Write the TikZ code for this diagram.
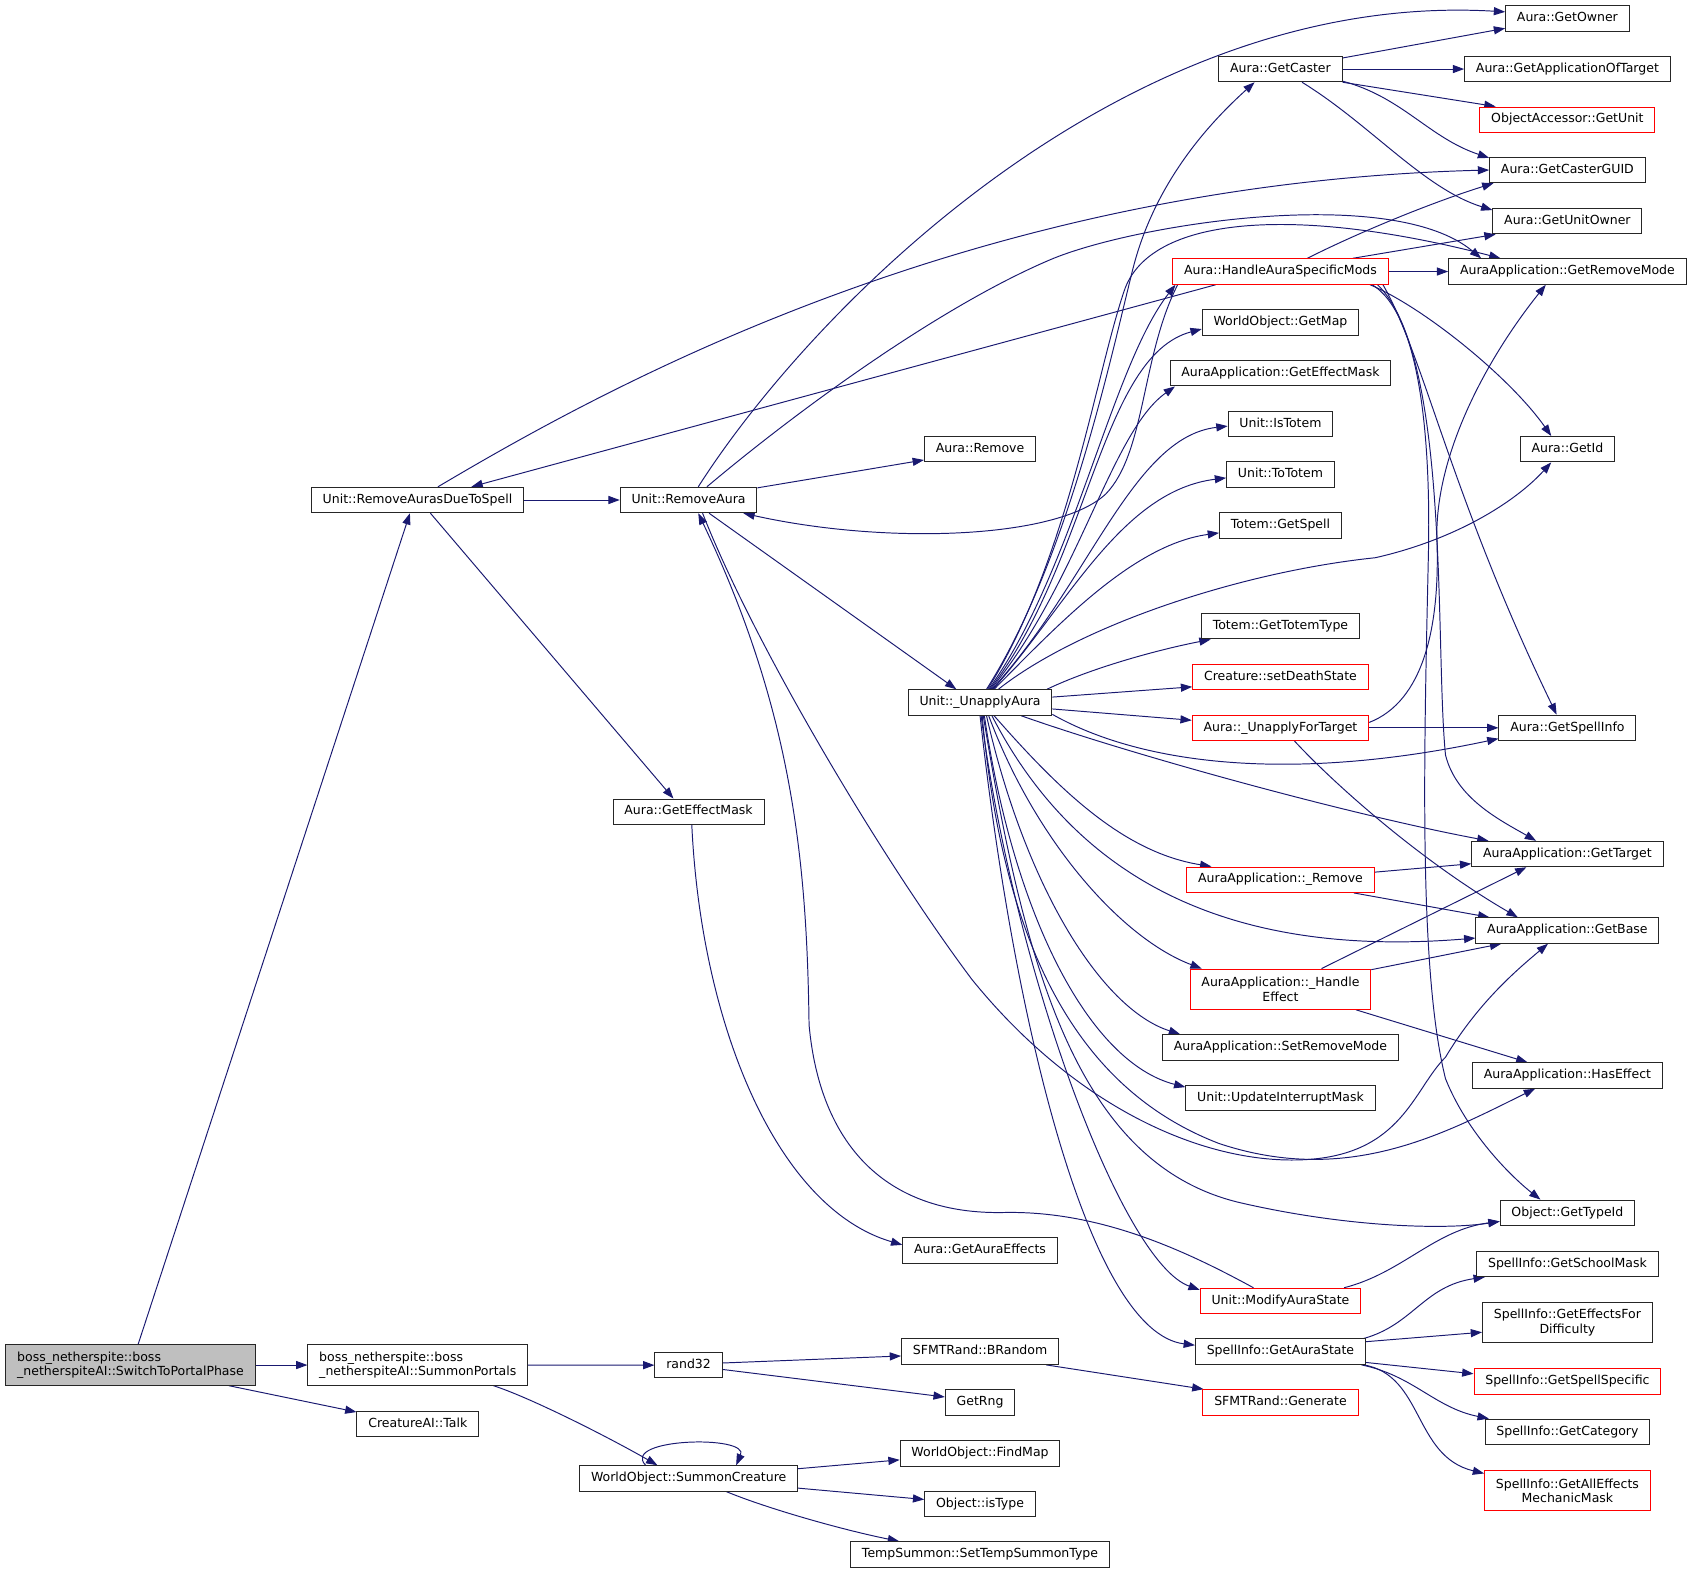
\documentclass[tikz,border=0pt]{standalone}
\usepackage{fontspec}
\setmainfont{DejaVu Sans}
\usetikzlibrary{arrows.meta,backgrounds}
\definecolor{edgecol}{HTML}{191970}
\definecolor{graybg}{HTML}{BFBFBF}
\begin{document}
\begin{tikzpicture}[x=1pt,y=-1pt,
  box/.style={draw=black!85, line width=0.9pt, fill=white, inner xsep=10.5pt, inner ysep=5.8pt,
    text height=9pt, text depth=3pt, font=\fontsize{11.6pt}{13.5pt}\selectfont},
  redbox/.style={box, draw=red},
  two/.style={align=center, text height=, text depth=, minimum height=37.3pt},
  twol/.style={two, align=left},
  e/.style={draw=edgecol, line width=0.9pt, -{Triangle[length=10.5pt,width=7.5pt]}},
]
\useasboundingbox (0,0) rectangle (1568.5,1458.2);

% column 0/1
\node[box, twol, fill=graybg] (SP) at (121,1265.4) {boss\_netherspite::boss\\\_netherspiteAI::SwitchToPortalPhase};
\node[box, twol] (SPo) at (387.3,1265.4) {boss\_netherspite::boss\\\_netherspiteAI::SummonPortals};
\node[box] (Talk) at (387.3,1320.2) {CreatureAI::Talk};
\node[box] (RADTS) at (387,463.5) {Unit::RemoveAurasDueToSpell};
% column 2
\node[box] (RA) at (638.3,463.5) {Unit::RemoveAura};
\node[box] (GEM) at (638.3,752.5) {Aura::GetEffectMask};
\node[box] (rand) at (638.3,1265.5) {rand32};
\node[box] (SC) at (638.4,1370.5) {WorldObject::SummonCreature};
% column 3
\node[box] (ARem) at (908.5,416.4) {Aura::Remove};
\node[box] (UA) at (908.5,651.2) {Unit::\_UnapplyAura};
\node[box] (GAE) at (908.5,1159) {Aura::GetAuraEffects};
\node[box] (BR) at (908.5,1253) {SFMTRand::BRandom};
\node[box] (Rng) at (908.5,1300) {GetRng};
\node[box] (FM) at (908.5,1347.3) {WorldObject::FindMap};
\node[box] (IT) at (908.5,1394) {Object::isType};
\node[box] (TST) at (908.5,1441) {TempSummon::SetTempSummonType};
% column 4
\node[box] (GC) at (1187,64) {Aura::GetCaster};
\node[redbox] (HASM) at (1187,251.7) {Aura::HandleAuraSpecificMods};
\node[box] (GMap) at (1187,299) {WorldObject::GetMap};
\node[box] (AAGEM) at (1187,346) {AuraApplication::GetEffectMask};
\node[box] (IsT) at (1187,393) {Unit::IsTotem};
\node[box] (ToT) at (1187,440) {Unit::ToTotem};
\node[box] (GSp) at (1187,487) {Totem::GetSpell};
\node[box] (GTT) at (1187,580.5) {Totem::GetTotemType};
\node[redbox] (SDS) at (1187,627.7) {Creature::setDeathState};
\node[redbox] (UFT) at (1187,674.7) {Aura::\_UnapplyForTarget};
\node[redbox] (AARm) at (1187,815.5) {AuraApplication::\_Remove};
\node[redbox, two] (HE) at (1187,917) {AuraApplication::\_Handle\\Effect};
\node[box] (SRM) at (1187,971) {AuraApplication::SetRemoveMode};
\node[box] (UIM) at (1187,1018) {Unit::UpdateInterruptMask};
\node[redbox] (MAS) at (1187,1206) {Unit::ModifyAuraState};
\node[box] (GAS) at (1187,1253) {SpellInfo::GetAuraState};
\node[redbox] (Gen) at (1187,1300) {SFMTRand::Generate};
% column 5
\node[box] (GO) at (1453,17) {Aura::GetOwner};
\node[box] (GAOT) at (1453,64) {Aura::GetApplicationOfTarget};
\node[redbox] (GU) at (1453,111) {ObjectAccessor::GetUnit};
\node[box] (GCG) at (1453,157.6) {Aura::GetCasterGUID};
\node[box] (GUO) at (1453,205) {Aura::GetUnitOwner};
\node[box] (GRM) at (1453,251.7) {AuraApplication::GetRemoveMode};
\node[box] (GId) at (1453,416.4) {Aura::GetId};
\node[box] (GSI) at (1453,674.7) {Aura::GetSpellInfo};
\node[box] (GT) at (1453,791.7) {AuraApplication::GetTarget};
\node[box] (GB) at (1453,862.6) {AuraApplication::GetBase};
\node[box] (HasE) at (1453,997) {AuraApplication::HasEffect};
\node[box] (GTI) at (1453,1124.3) {Object::GetTypeId};
\node[box] (GSM) at (1453,1171.6) {SpellInfo::GetSchoolMask};
\node[box, two] (GEFD) at (1453,1226) {SpellInfo::GetEffectsFor\\Difficulty};
\node[redbox] (GSS) at (1453,1280.5) {SpellInfo::GetSpellSpecific};
\node[box] (GCat) at (1453,1327.3) {SpellInfo::GetCategory};
\node[redbox, two] (GAEM) at (1453,1382) {SpellInfo::GetAllEffects\\MechanicMask};

\begin{scope}[on background layer]
% SwitchToPortalPhase
\draw[e] ([xshift=7pt]SP.north) -- ([xshift=-7pt]RADTS.south);
\draw[e] (SP.east) -- (SPo.west);
\draw[e] ([xshift=91pt]SP.south) -- ([yshift=-1pt]Talk.north west);
% SummonPortals
\draw[e] (SPo.east) -- (rand.west);
\draw[e] ([xshift=70pt]SPo.south) .. controls (490,1295) and (560,1330) .. ([xshift=-29pt]SC.north);
% SummonCreature
\draw[e] ([xshift=-40pt]SC.north) .. controls (575,1333) and (695,1330) .. ([xshift=44pt]SC.north);
\draw[e] ([yshift=9pt]SC.east) -- ([yshift=-6pt]FM.west);
\draw[e] ([yshift=-9pt]SC.east) -- ([yshift=4pt]IT.west);
\draw[e] ([xshift=35pt]SC.south) .. controls (710,1398) and (780,1418) .. ([xshift=-75pt]TST.north);
% rand32
\draw[e] ([yshift=2pt]rand.east) -- ([yshift=-4pt]BR.west);
\draw[e] ([yshift=-4pt]rand.east) -- ([yshift=5pt]Rng.west);
\draw[e] ([xshift=-12pt]BR.south east) -- ([xshift=1pt]Gen.north west);
% RemoveAurasDueToSpell
\draw[e] (RADTS.east) -- (RA.west);
\draw[e] ([xshift=12pt]RADTS.south) -- ([xshift=-14pt]GEM.north);
\draw[e] ([xshift=19pt]RADTS.north) .. controls (560,360) and (900,170) .. (GCG.west);
% HandleAuraSpecificMods -> RemoveAurasDueToSpell
\draw[e] ([xshift=-60pt]HASM.south) -- ([xshift=50pt]RADTS.north);
% RemoveAura
\draw[e] ([yshift=-1pt]RA.north east) -- ([yshift=-10pt]ARem.west);
\draw[e] ([xshift=19pt]RA.south) -- ([xshift=-22pt]UA.north);
\draw[e] ([xshift=9pt]RA.north) .. controls (750,290) and (1040,-10) .. ([yshift=6pt]GO.west);
\draw[e] ([xshift=17pt]RA.north) .. controls (740,380) and (870,285) .. (973,241) .. controls (1050,208) and (1290,170) .. ([xshift=-80pt]GRM.north);
\draw[e] ([xshift=13pt]RA.south) .. controls (700,600) and (820,800) .. (901,908) .. controls (1000,1030) and (1120,1080) .. (1210,1075) .. controls (1300,1070) and (1310,1010) .. (1340,980) .. controls (1370,930) and (1405,900) .. ([xshift=-18pt]GB.south);
% HandleAuraSpecificMods -> RemoveAura
\draw[e] ([xshift=5pt]HASM.south west) .. controls (1058,330) and (1062,420) .. (1025,458) .. controls (980,500) and (820,505) .. ([xshift=-13pt]RA.south east);
% ModifyAuraState -> RemoveAura
\draw[e] ([xshift=-25pt]MAS.north) .. controls (1100,1160) and (1020,1122) .. (930,1124) .. controls (820,1126) and (760,1060) .. (750,950) .. controls (748,800) and (735,660) .. ([xshift=9pt]RA.south);
% GetEffectMask
\draw[e] ([xshift=3pt]GEM.south) .. controls (650,950) and (720,1120) .. ([yshift=5pt]GAE.west);
% _UnapplyAura upward fan
\draw[e] ([xshift=6pt]UA.north) .. controls (990,520) and (1030,330) .. (1050,250) .. controls (1070,170) and (1120,115) .. ([xshift=-24pt]GC.south);
\draw[e] ([xshift=7pt]UA.north) .. controls (990,520) and (1015,350) .. (1042,270) .. controls (1065,200) and (1200,190) .. ([xshift=-62pt]GRM.north);
\draw[e] ([xshift=8pt]UA.north) .. controls (995,530) and (1030,340) .. ([xshift=3pt]HASM.south west);
\draw[e] ([xshift=9pt]UA.north) .. controls (1010,520) and (1020,330) .. ([yshift=-6pt]GMap.west);
\draw[e] ([xshift=10pt]UA.north) .. controls (1000,540) and (1030,400) .. ([xshift=5pt]AAGEM.south west);
\draw[e] ([xshift=11pt]UA.north) .. controls (1010,540) and (1050,405) .. ([yshift=-2pt]IsT.west);
\draw[e] ([xshift=12pt]UA.north) .. controls (990,560) and (1040,455) .. ([yshift=-3pt]ToT.west);
\draw[e] ([xshift=13pt]UA.north) .. controls (980,580) and (1050,505) .. ([yshift=-7pt]GSp.west);
\draw[e] ([xshift=17pt]UA.north) .. controls (1000,580) and (1150,530) .. (1275,517) .. controls (1350,500) and (1405,465) .. ([xshift=-15pt]GId.south);
\draw[e] ([xshift=-5pt]UA.north east) .. controls (1010,620) and (1070,603) .. ([xshift=9pt]GTT.south west);
\draw[e] ([yshift=5pt]UA.east) -- ([yshift=-9pt]SDS.west);
\draw[e] ([yshift=-6pt]UA.east) -- ([yshift=7pt]UFT.west);
\draw[e] ([yshift=-11pt]UA.east) .. controls (1060,710) and (1200,725) .. ([yshift=-10pt]GSI.west);
% _UnapplyAura downward fan
\draw[e] ([xshift=38pt]UA.south) .. controls (1050,700) and (1250,755) .. ([xshift=16pt]GT.north west);
\draw[e] ([xshift=13pt]UA.south) .. controls (980,730) and (1040,790) .. ([xshift=-64pt]AARm.north);
\draw[e] ([xshift=11pt]UA.south) .. controls (990,800) and (1120,890) .. ([yshift=-7pt]GB.west);
\draw[e] ([xshift=8pt]UA.south) .. controls (960,780) and (1040,870) .. ([xshift=-73pt]HE.north);
\draw[e] ([xshift=6pt]UA.south) .. controls (950,820) and (1020,935) .. ([xshift=-93pt]SRM.north);
\draw[e] ([xshift=4pt]UA.south) .. controls (940,850) and (1010,985) .. ([yshift=-2pt]UIM.north west);
\draw[e] ([xshift=2pt]UA.south) .. controls (930,880) and (1000,1010) .. (1130,1060) .. controls (1250,1100) and (1340,1050) .. ([xshift=-30pt]HasE.south);
\draw[e] ([xshift=3pt]UA.south) .. controls (950,900) and (1000,1080) .. (1150,1115) .. controls (1250,1138) and (1340,1140) .. ([yshift=-8pt]GTI.west);
\draw[e] ([xshift=1pt]UA.south) .. controls (940,900) and (1040,1170) .. ([yshift=-2pt]MAS.north west);
\draw[e] (UA.south) .. controls (940,950) and (1010,1235) .. ([yshift=6pt]GAS.west);
% GetCaster
\draw[e] ([yshift=-2pt]GC.north east) -- ([yshift=3pt]GO.south west);
\draw[e] (GC.east) -- (GAOT.west);
\draw[e] (GC.south east) -- ([xshift=15pt]GU.north west);
\draw[e] ([yshift=1pt]GC.south east) .. controls (1300,90) and (1325,128) .. ([yshift=-1pt]GCG.north west);
\draw[e] ([xshift=20pt]GC.south) .. controls (1270,115) and (1320,175) .. ([yshift=-2pt]GUO.north west);
% HandleAuraSpecificMods
\draw[e] ([xshift=25pt]HASM.north) .. controls (1250,220) and (1320,190) .. ([xshift=4pt]GCG.south west);
\draw[e] ([xshift=67pt]HASM.north) -- ([xshift=3pt]GUO.south west);
\draw[e] (HASM.east) -- (GRM.west);
\draw[e] ([xshift=83pt]HASM.south) .. controls (1320,285) and (1400,350) .. ([xshift=-15pt]GId.north);
\draw[e] ([xshift=95pt]HASM.south) .. controls (1320,330) and (1345,460) .. ([xshift=-10pt]GSI.north);
\draw[e] ([xshift=90pt]HASM.south) .. controls (1345,330) and (1330,600) .. (1340,700) .. controls (1350,740) and (1390,760) .. ([xshift=-29pt]GT.north);
\draw[e] ([xshift=85pt]HASM.south) .. controls (1315,290) and (1327,400) .. (1324,520) .. controls (1320,700) and (1315,900) .. (1340,1000) .. controls (1360,1050) and (1400,1090) .. ([xshift=-25pt]GTI.north);
% _UnapplyForTarget
\draw[e] ([yshift=5pt]UFT.east) .. controls (1320,650) and (1335,580) .. (1332,500) .. controls (1330,420) and (1380,330) .. ([xshift=-20pt]GRM.south);
\draw[e] (UFT.east) -- (GSI.west);
\draw[e] ([xshift=13pt]UFT.south) .. controls (1240,730) and (1320,800) .. ([xshift=-46pt]GB.north);
% AuraApplication::_Remove
\draw[e] ([yshift=7pt]AARm.east) -- ([yshift=-9pt]GT.west);
\draw[e] ([xshift=68pt]AARm.south) -- ([xshift=13pt]GB.north west);
% _HandleEffect
\draw[e] ([yshift=-1pt]HE.north east) -- ([xshift=24pt]GB.south west);
\draw[e] ([xshift=38pt]HE.north) -- ([xshift=-38pt]GT.south);
\draw[e] ([xshift=70pt]HE.south) -- ([xshift=-37pt]HasE.north);
% ModifyAuraState
\draw[e] ([xshift=59pt]MAS.north) .. controls (1300,1180) and (1330,1140) .. ([yshift=-8pt]GTI.west);
% GetAuraState
\draw[e] ([xshift=-2pt]GAS.north east) .. controls (1310,1228) and (1320,1192) .. ([xshift=8pt]GSM.south west);
\draw[e] ([yshift=-3pt]GAS.north east) -- ([yshift=-9pt]GEFD.west);
\draw[e] ([yshift=-10pt]GAS.east) -- ([yshift=7pt]GSS.west);
\draw[e] ([xshift=75pt]GAS.south) .. controls (1310,1275) and (1330,1305) .. ([xshift=4pt]GCat.north west);
\draw[e] ([xshift=-2pt]GAS.south east) .. controls (1320,1275) and (1310,1350) .. ([yshift=-3pt]GAEM.north west);
\end{scope}
\end{tikzpicture}
\end{document}
